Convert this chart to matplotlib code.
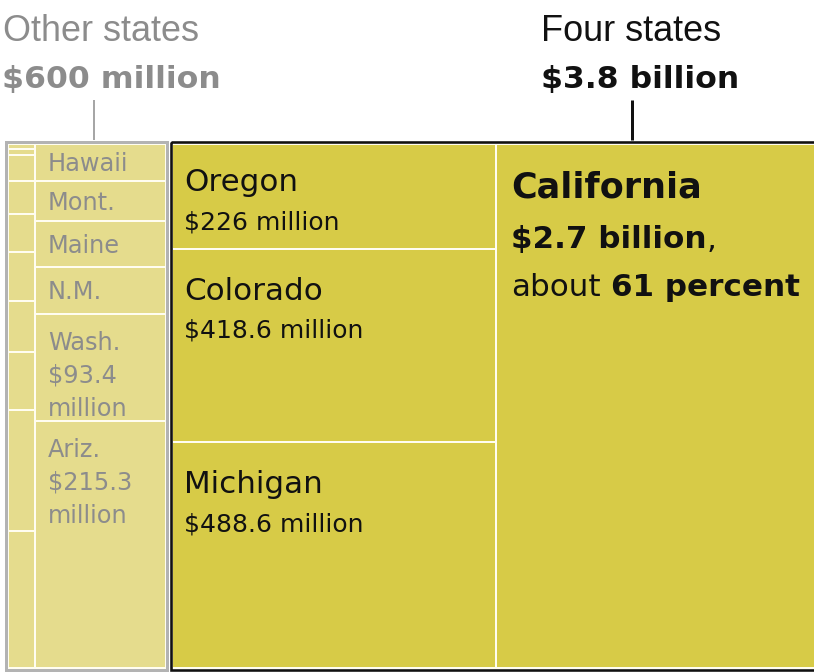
import matplotlib
matplotlib.use("Agg")
import matplotlib.pyplot as plt
from matplotlib.patches import Rectangle

# ---------------- data (millions of dollars) ----------------
other_small_values = [0.9, 1.1, 4.7, 5.9, 6.8, 8.8, 9.0, 10.4, 21.7, 24.6]
other_named_states = ["Hawaii", "Mont.", "Maine", "N.M.", "Wash.", "Ariz."]
other_named_values = [32.2, 34.8, 40.0, 40.9, 93.4, 215.3]
other_named_extra = [[], [], [], [], ["$93.4", "million"], ["$215.3", "million"]]
four_column_states = ["Oregon", "Colorado", "Michigan"]
four_column_values = [226.0, 418.6, 488.6]
four_column_labels = ["$226 million", "$418.6 million", "$488.6 million"]
california_value = 2666.8
other_title = "Other states"
other_total_label = "$600 million"
four_title = "Four states"
four_total_label = "$3.8 billion"

# ---------------- style ----------------
FOUR_FILL = "#d7cb47"
OTHER_FILL = "#e5dc8d"
GRAY_TEXT = "#8c8c8c"
GRAY_BORDER = "#b3b3b3"
SEP = "#fffdf0"
PX = 0.72  # points per pixel at dpi 100

fig = plt.figure(figsize=(8.14, 6.72), dpi=100)
ax = fig.add_axes([0, 0, 1, 1])
ax.set_xlim(0, 814)
ax.set_ylim(672, 0)
ax.axis("off")

TOP, BOTTOM = 144.0, 668.0
H = BOTTOM - TOP
K = 150.0  # pixel area per million dollars


def column(x0, values, fill):
    width = sum(values) * K / H
    y = TOP
    rects = []
    for v in values:
        h = v * K / width
        ax.add_patch(Rectangle((x0, y), width, h, facecolor=fill,
                               edgecolor=SEP, lw=2 * PX, zorder=1))
        rects.append((x0, y, width, h))
        y += h
    return x0 + width, rects


REG = ["DejaVu Sans"]

# ---------- other states ----------
ox0 = 8.0
x1, _ = column(ox0, other_small_values, OTHER_FILL)
ox_end, named_rects = column(x1, other_named_values, OTHER_FILL)
ax.add_patch(Rectangle((ox0 - 2, TOP - 2), ox_end - ox0 + 3.5, H + 3.5,
                       facecolor="none", edgecolor=GRAY_BORDER, lw=3 * PX,
                       zorder=3))
for name, extra, (x, y, w, h) in zip(other_named_states, other_named_extra,
                                      named_rects):
    lines = [name] + extra
    if len(lines) == 1:
        base = y + h / 2 + 8.7
    else:
        base = y + 36
    for i, ln in enumerate(lines):
        ax.text(x + 13, base + i * 33, ln, fontsize=24 * PX, color=GRAY_TEXT,
                family=REG, va="baseline", ha="left", zorder=4)

# ---------- four states ----------
fx0 = ox_end + 6.5
fx1, four_rects = column(fx0, four_column_values, FOUR_FILL)
cx_end, cal_rects = column(fx1, [california_value], FOUR_FILL)
ax.add_patch(Rectangle((fx0 - 1.5, TOP - 2.5), cx_end - fx0 + 10, H + 4,
                       facecolor="none", edgecolor="#111111", lw=2.6 * PX,
                       zorder=3))
for name, lab, (x, y, w, h) in zip(four_column_states, four_column_labels,
                                    four_rects):
    base = y + min(51, 0.45 * h)
    ax.text(x + 12, base, name, fontsize=31 * PX, color="#111111",
            family=REG, va="baseline", zorder=4)
    ax.text(x + 12, base + 38, lab, fontsize=25 * PX, color="#111111",
            family=REG, va="baseline", zorder=4)

cx, cy, cw, ch = cal_rects[0]
tx = cx + 15
ax.text(tx, cy + 53, "California", fontsize=35 * PX, fontweight="bold",
        color="#111111", family=REG, va="baseline", zorder=4)
t2 = ax.text(tx, cy + 104, "$2.7 billion", fontsize=31 * PX,
             fontweight="bold", color="#111111", family=REG, va="baseline",
             zorder=4)
ax.annotate(",", xy=(1, cy + 104), xycoords=(t2, "data"), fontsize=31 * PX,
            color="#111111", family=REG, va="baseline", ha="left", zorder=4)
t3 = ax.text(tx, cy + 152, "about", fontsize=31 * PX, color="#111111",
             family=REG, va="baseline", zorder=4)
ax.annotate("61 percent", xy=(1, cy + 152), xycoords=(t3, "data"),
            xytext=(10, 0), textcoords="offset pixels", fontsize=31 * PX,
            fontweight="bold", color="#111111", family=REG, va="baseline",
            ha="left", zorder=4)

# ---------- headers ----------
ax.text(3, 41, other_title, fontsize=36 * PX, color=GRAY_TEXT,
        family=["Liberation Sans"], va="baseline")
ax.text(2, 88, other_total_label, fontsize=31.5 * PX, fontweight="bold",
        color=GRAY_TEXT, family=REG, va="baseline")
ax.text(541, 41, four_title, fontsize=36 * PX, color="#111111",
        family=["Liberation Sans"], va="baseline")
ax.text(541, 88, four_total_label, fontsize=31.5 * PX, fontweight="bold",
        color="#111111", family=REG, va="baseline")
ax.plot([93.5, 93.5], [100, 140], color="#a6a6a6", lw=2 * PX,
        solid_capstyle="butt")
ax.plot([632, 632], [100, 140], color="#111111", lw=3 * PX,
        solid_capstyle="butt")

fig.savefig("out.png", dpi=100)
